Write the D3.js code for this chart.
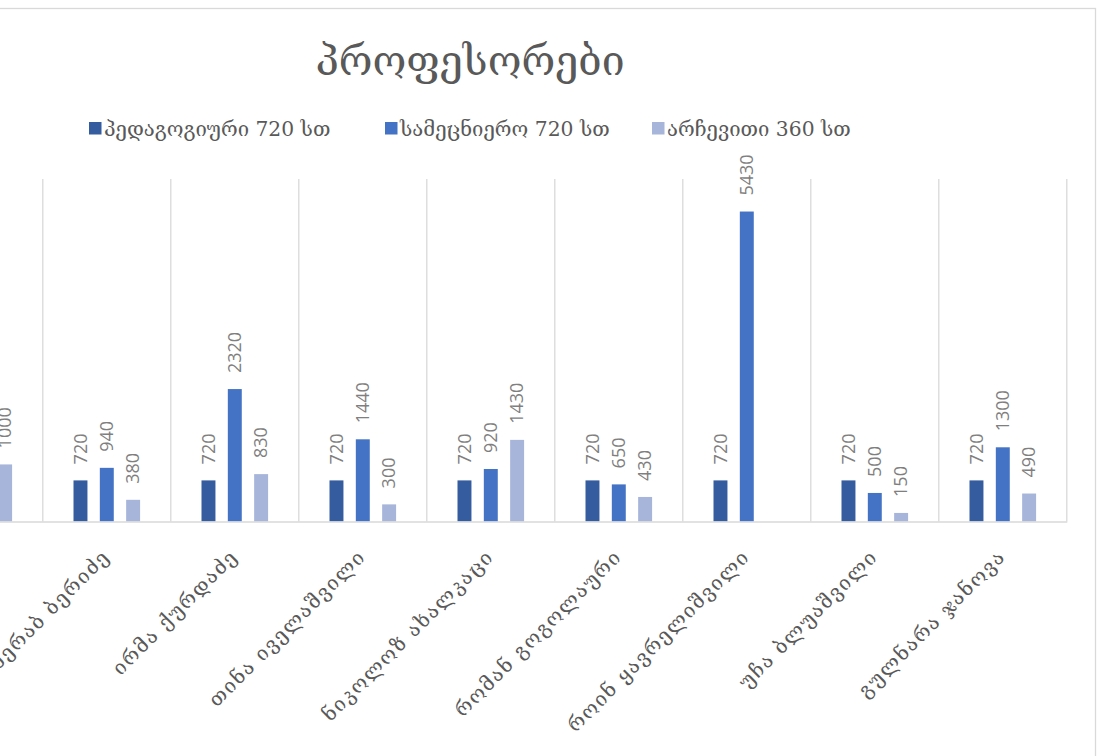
<!DOCTYPE html>
<html><head><meta charset="utf-8">
<script src="https://cdn.jsdelivr.net/npm/d3@7/dist/d3.min.js"></script>
<style>body{margin:0;background:#fff} svg{display:block}</style>
</head><body><svg id="c" width="1101" height="756"></svg>
<script>
// ---- data ----
const title = "პროფესორები";
const categories = ["", "მერაბ ბერიძე", "ირმა ქურდაძე", "თინა იველაშვილი", "ნიკოლოზ ახალკაცი", "რომან გოგოლაური", "როინ ყავრელიშვილი", "უჩა ბლუაშვილი", "გულნარა ჯანოვა"];
const seriesNames = ["პედაგოგიური 720 სთ", "სამეცნიერო 720 სთ", "არჩევითი 360 სთ"];
const pedagogical = [720, 720, 720, 720, 720, 720, 720, 720, 720];
const scientific  = [null, 940, 2320, 1440, 920, 650, 5430, 500, 1300];
const elective    = [1000, 380, 830, 300, 1430, 430, null, 150, 490];
const colors = ["#355c9f", "#4472c4", "#a7b5da"];

const seriesValues = [pedagogical, scientific, elective];
const GEO = "'DejaVu Serif', 'DejaVu Sans', serif";
const NUM = "'Open Sans', 'DejaVu Sans', sans-serif";

const svg = d3.select("#c");
svg.append("rect").attr("x", -10).attr("y", 8.5).attr("width", 1105.5).attr("height", 800)
  .attr("fill", "#fff").attr("stroke", "#d9d9d9").attr("stroke-width", 1.3);

const x = d3.scaleBand().domain(categories).range([-85.2, 1066.8]).padding(0);
const xs = d3.scaleBand().domain([0, 1, 2]).range([30.7, 97.3]).paddingInner(0.47);
const y = d3.scaleLinear().domain([0, 6000]).range([521.5, 179]);

// vertical gridlines at category boundaries
const bounds = categories.map(c => x(c)).concat([x(categories[categories.length - 1]) + x.bandwidth()]);
svg.append("g").selectAll("line").data(bounds).join("line")
  .attr("x1", d => d).attr("x2", d => d).attr("y1", y(6000)).attr("y2", y(0))
  .attr("stroke", "#d9d9d9").attr("stroke-width", 1.3);

// bars
const g = svg.append("g");
seriesValues.forEach((vals, si) => {
  const data = categories.map((c, i) => ({c, v: vals[i]})).filter(d => d.v != null);
  g.selectAll(null).data(data).join("rect")
    .attr("x", d => x(d.c) + xs(si)).attr("width", xs.bandwidth())
    .attr("y", d => y(d.v)).attr("height", d => y(0) - y(d.v))
    .attr("fill", colors[si]);
  g.selectAll(null).data(data).join("text")
    .attr("transform", d => `translate(${x(d.c) + xs(si) + xs.bandwidth() / 2},${y(d.v) - 16}) rotate(-90)`)
    .attr("dy", "0.35em").attr("text-anchor", "start")
    .style("font-family", NUM).style("font-size", "18px").attr("fill", "#7f7f7f")
    .text(d => d.v);
});

// baseline axis
const xAxis = d3.axisBottom(x).tickSize(0).tickFormat("");
const ax = svg.append("g").attr("transform", `translate(0,${y(0)})`).call(xAxis);
ax.select(".domain").attr("stroke", "#d9d9d9").attr("stroke-width", 1.6);

// category labels
svg.append("g").selectAll("text").data(categories).join("text")
  .attr("transform", d => `translate(${x(d) + x.bandwidth() / 2 + 4},558) rotate(-45)`)
  .attr("text-anchor", "end")
  .style("font-family", GEO).style("font-size", "20px").style("letter-spacing", "1.5px").attr("fill", "#595959")
  .text(d => d);

// title
svg.append("text").attr("x", 470).attr("y", 75).attr("text-anchor", "middle")
  .style("font-family", GEO).style("font-size", "41px").attr("fill", "#595959")
  .text(title);

// legend
const legendX = [89, 385, 652];
const lg = svg.append("g").selectAll("g").data(seriesNames).join("g")
  .attr("transform", (d, i) => `translate(${legendX[i]},122)`);
lg.append("rect").attr("width", 12.5).attr("height", 12.5).attr("fill", (d, i) => colors[i]);
lg.append("text").attr("x", 15).attr("y", 6.5).attr("dy", "0.35em")
  .style("font-family", GEO).style("font-size", "20.3px").attr("fill", "#595959")
  .text(d => d);
</script></body></html>
